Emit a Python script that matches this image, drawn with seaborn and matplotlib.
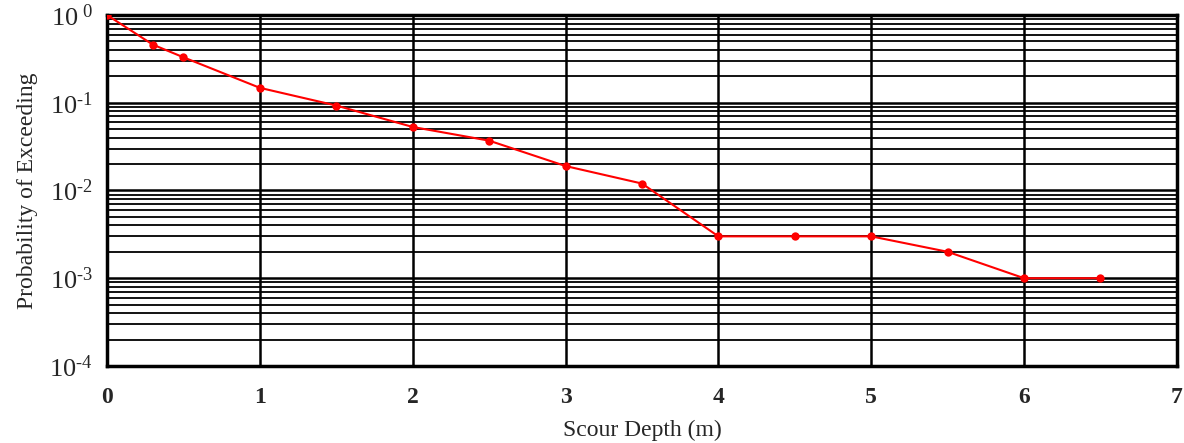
import numpy as np
import pandas as pd
import matplotlib
matplotlib.use("Agg")
import matplotlib.pyplot as plt
import seaborn as sns
from matplotlib.ticker import LogLocator

depth = [0, 0.3, 0.5, 1, 1.5, 2, 2.5, 3, 3.5, 4, 4.5, 5, 5.5, 6, 6.5]
prob = [1.0, 0.46, 0.33, 0.148, 0.093, 0.053, 0.037, 0.019, 0.012,
        0.003, 0.003, 0.003, 0.002, 0.001, 0.001]
x_ticks = [0, 1, 2, 3, 4, 5, 6, 7]
y_ticks = [1e-4, 1e-3, 1e-2, 1e-1, 1e0]
y_labels = ["$10^{\\text{-}4}$", "$10^{\\text{-}3}$", "$10^{\\text{-}2}$",
            "$10^{\\text{-}1}$", "$10^{\\ 0}$"]

sns.set_theme(style="white")
plt.rcParams['font.family'] = ['Liberation Serif', 'DejaVu Serif']
plt.rcParams['mathtext.fontset'] = 'custom'
plt.rcParams['mathtext.rm'] = 'Liberation Serif'
plt.rcParams['mathtext.it'] = 'Liberation Serif:italic'
plt.rcParams['mathtext.bf'] = 'Liberation Serif:bold'
plt.rcParams['axes.unicode_minus'] = False

df = pd.DataFrame({"depth": depth, "prob": prob})

fig = plt.figure(figsize=(11.84, 4.43), dpi=100)
ax = fig.add_axes([0.0904, 0.174, 0.9036, 0.792])

sns.lineplot(data=df, x="depth", y="prob", ax=ax, color="red",
             marker="o", markersize=6, markeredgewidth=0, linewidth=1.5,
             zorder=5)

ax.set_yscale("log")
ax.set_xlim(0, 7)
ax.set_ylim(1e-4, 1e0)
ax.set_xticks(x_ticks)
ax.set_xticklabels([str(t) for t in x_ticks], fontweight="bold", fontsize=17)
ax.set_yticks(y_ticks)
ax.set_yticklabels(y_labels, fontsize=19)
ax.yaxis.set_minor_locator(LogLocator(base=10, subs=np.arange(2, 10), numticks=50))
ax.yaxis.set_minor_formatter(plt.NullFormatter())

ax.grid(True, which="major", axis="both", color="black", linewidth=1.8)
ax.grid(True, which="minor", axis="y", color="black", linewidth=1.3)
ax.tick_params(axis="x", which="both", length=0, pad=15)
ax.tick_params(axis="y", which="both", length=0, pad=10)

for s in ax.spines.values():
    s.set_color("black")
    s.set_linewidth(2.5)
    s.set_visible(True)

ax.set_xlabel("Scour Depth (m)", fontsize=17, labelpad=9)
ax.set_ylabel("Probability of Exceeding", fontsize=17, labelpad=8)

fig.savefig("out.png", dpi=100)
